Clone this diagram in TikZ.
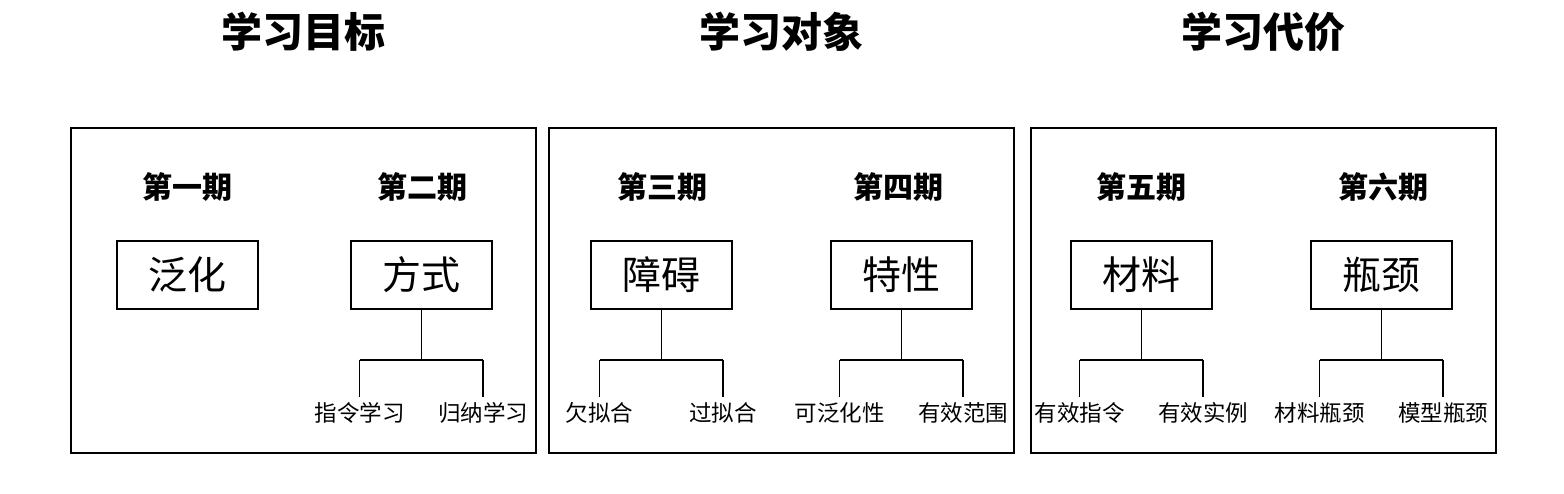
\documentclass[tikz,border=0pt]{standalone}
\usepackage{fontspec}
\usetikzlibrary{calc}
\newfontfamily\cjk{Noto Sans CJK SC}
\begin{document}
\begin{tikzpicture}[x=1pt,y=-1pt,
  panel/.style={draw,line width=2pt,minimum width=465pt,minimum height=325pt,inner sep=0pt},
  stagebox/.style={draw,line width=1.6pt,minimum width=141pt,minimum height=68pt,inner sep=0pt,font=\cjk\fontsize{39}{42}\selectfont},
  stagelbl/.style={font=\cjk\bfseries\fontsize{30}{34}\selectfont,inner sep=0pt},
  ttl/.style={font=\cjk\bfseries\fontsize{41}{45}\selectfont,inner sep=0pt},
  leaf/.style={font=\cjk\fontsize{22.5}{26}\selectfont,inner sep=0pt},
  conn/.style={line width=1.5pt}]
\useasboundingbox (0,0) rectangle (1564,494);
% titles
\node[ttl] (t1) at (303,32) {学习目标};
\node[ttl] (t2) at (781,32) {学习对象};
\node[ttl] (t3) at (1263,32) {学习代价};
% panels
\node[panel] (p1) at (303.4,290.5) {};
\node[panel] (p2) at (781.2,290.5) {};
\node[panel] (p3) at (1263.4,290.5) {};
% stage labels
\node[stagelbl] (s1) at (187,187) {第一期};
\node[stagelbl] (s2) at (422,187) {第二期};
\node[stagelbl] (s3) at (662,187) {第三期};
\node[stagelbl] (s4) at (898,187) {第四期};
\node[stagelbl] (s5) at (1141,187) {第五期};
\node[stagelbl] (s6) at (1383,187) {第六期};
% boxes
\node[stagebox] (b1) at (187.5,275) {泛化};
\node[stagebox] (b2) at (421.7,275) {方式};
\node[stagebox] (b3) at (661.5,275) {障碍};
\node[stagebox] (b4) at (901.7,275) {特性};
\node[stagebox] (b5) at (1141.5,275) {材料};
\node[stagebox] (b6) at (1381.7,275) {瓶颈};
% leaves
\node[leaf] (l2a) at (359.5,413) {指令学习};
\node[leaf] (l2b) at (483,413) {归纳学习};
\node[leaf] (l3a) at (599.5,413) {欠拟合};
\node[leaf] (l3b) at (723,413) {过拟合};
\node[leaf] (l4a) at (839.5,413) {可泛化性};
\node[leaf] (l4b) at (963,413) {有效范围};
\node[leaf] (l5a) at (1079.5,413) {有效指令};
\node[leaf] (l5b) at (1203,413) {有效实例};
\node[leaf] (l6a) at (1319.5,413) {材料瓶颈};
\node[leaf] (l6b) at (1443,413) {模型瓶颈};
% connectors
\foreach \b/\a/\c in {b2/l2a/l2b,b3/l3a/l3b,b4/l4a/l4b,b5/l5a/l5b,b6/l6a/l6b}{
  \coordinate (\b j) at ($(\b.south)+(0,50)$);
  \draw[conn] (\b.south) -- (\b j);
  \draw[conn] (\a.north |- \b j) -- (\c.north |- \b j);
  \draw[conn] (\a.north |- \b j) -- ($(\a.north)+(0,-5)$);
  \draw[conn] (\c.north |- \b j) -- ($(\c.north)+(0,-5)$);
}
\end{tikzpicture}
\end{document}
